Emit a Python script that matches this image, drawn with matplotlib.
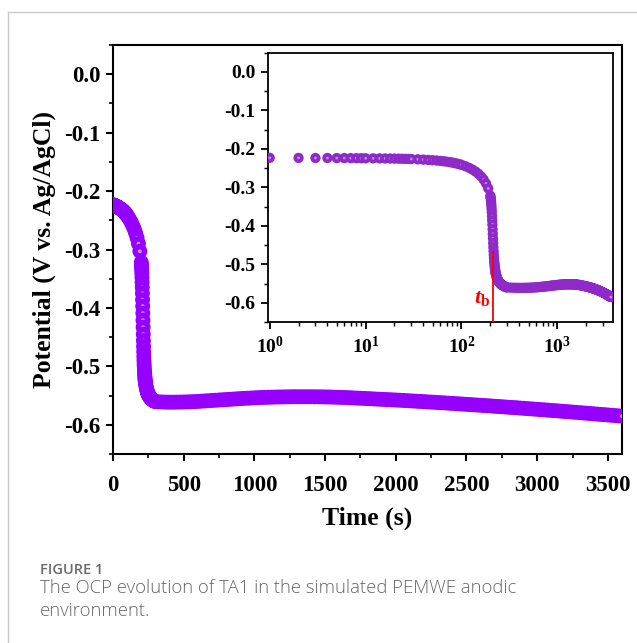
import numpy as np
import matplotlib
matplotlib.use("Agg")
import matplotlib.pyplot as plt
from matplotlib.lines import Line2D
from matplotlib.ticker import MultipleLocator, LogLocator, FuncFormatter, NullFormatter

# --- fonts ---
plt.rcParams['font.family'] = 'Liberation Serif'
plt.rcParams['font.weight'] = 'bold'
plt.rcParams['mathtext.fontset'] = 'custom'
plt.rcParams['mathtext.rm'] = 'Liberation Serif:bold'
plt.rcParams['mathtext.it'] = 'Liberation Serif:italic:bold'
plt.rcParams['mathtext.bf'] = 'Liberation Serif:bold'

# --- data: OCP (V vs. Ag/AgCl) ---
T_START = np.arange(1, 11, 1)
V_START = [-0.2235, -0.2238, -0.2240, -0.2240, -0.2242, -0.2243, -0.2244, -0.2245, -0.2246, -0.2247]

T_EARLY = np.arange(12, 31, 2)
V_EARLY = [-0.2249, -0.2250, -0.2252, -0.2254, -0.2256, -0.2258, -0.2260, -0.2262, -0.2264, -0.2266]

T_SLOW = np.arange(35, 101, 5)
V_SLOW = [-0.2275, -0.2282, -0.2290, -0.2298, -0.2306, -0.2315, -0.2325,
          -0.2335, -0.2346, -0.2358, -0.2372, -0.2386, -0.2401, -0.2418]

T_BEND = np.arange(110, 201, 10)
V_BEND = [-0.2455, -0.2495, -0.2540, -0.2592, -0.2650, -0.2720, -0.2800, -0.2900, -0.3030, -0.3220]

T_DROP = np.arange(201, 231, 1)
V_DROP = [-0.326, -0.330, -0.335, -0.341, -0.348, -0.356, -0.365, -0.375, -0.386, -0.397,
          -0.409, -0.421, -0.433, -0.445, -0.456, -0.466, -0.475, -0.483, -0.490, -0.496,
          -0.501, -0.506, -0.510, -0.514, -0.517, -0.520, -0.523, -0.525, -0.527, -0.529]

T_KNEE = np.arange(232, 261, 2)
V_KNEE = [-0.532, -0.535, -0.537, -0.539, -0.541, -0.543, -0.544, -0.546,
          -0.547, -0.548, -0.549, -0.550, -0.551, -0.552, -0.5525]

T_FLOOR = np.arange(265, 301, 5)
V_FLOOR = [-0.5540, -0.5555, -0.5567, -0.5577, -0.5585, -0.5592, -0.5598, -0.5603]

T_LATE = np.arange(325, 3601, 25)
V_LATE = [
    -0.5607, -0.5610, -0.5612, -0.5613, -0.5613, -0.5612, -0.5611, -0.5610, -0.5608, -0.5606, -0.5603, -0.5600,
    -0.5596, -0.5592, -0.5588, -0.5584, -0.5580, -0.5576, -0.5572, -0.5568, -0.5564, -0.5560, -0.5556, -0.5552,
    -0.5548, -0.5545, -0.5542, -0.5539, -0.5536, -0.5533, -0.5531, -0.5529, -0.5527, -0.5525, -0.5524, -0.5523,
    -0.5522, -0.5521, -0.5520, -0.5520, -0.5520, -0.5520, -0.5520, -0.5520, -0.5521, -0.5521, -0.5522, -0.5523,
    -0.5524, -0.5526, -0.5528, -0.5530, -0.5532, -0.5534, -0.5537, -0.5540, -0.5543, -0.5546, -0.5549, -0.5552,
    -0.5555, -0.5558, -0.5561, -0.5564, -0.5567, -0.5570, -0.5573, -0.5576, -0.5579, -0.5583, -0.5586, -0.5590,
    -0.5593, -0.5597, -0.5600, -0.5604, -0.5608, -0.5611, -0.5615, -0.5619, -0.5622, -0.5626, -0.5630, -0.5634,
    -0.5638, -0.5642, -0.5646, -0.5650, -0.5654, -0.5658, -0.5662, -0.5666, -0.5670, -0.5674, -0.5678, -0.5683,
    -0.5687, -0.5691, -0.5695, -0.5700, -0.5704, -0.5708, -0.5713, -0.5717, -0.5722, -0.5726, -0.5731, -0.5735,
    -0.5740, -0.5744, -0.5749, -0.5754, -0.5758, -0.5763, -0.5768, -0.5773, -0.5777, -0.5782, -0.5787, -0.5792,
    -0.5797, -0.5802, -0.5807, -0.5812, -0.5817, -0.5822, -0.5827, -0.5832, -0.5837, -0.5842, -0.5847, -0.5852,
]

T_B = 215  # breakdown time marked in the inset

time_s = np.concatenate([T_START, T_EARLY, T_SLOW, T_BEND, T_DROP, T_KNEE, T_FLOOR, T_LATE])
potential = np.concatenate([V_START, V_EARLY, V_SLOW, V_BEND, V_DROP, V_KNEE, V_FLOOR, V_LATE])


def draw_points(a, t, v, size, face, shine):
    """每个点画成球: 先画实心圆, 再在中心画高光, 交替排列保持遮挡顺序"""
    n = len(t)
    xs = np.repeat(t, 2)
    ys = np.repeat(v, 2)
    sizes = np.tile([size, size * 0.07], n)
    colors = [face, shine] * n
    a.scatter(xs, ys, s=sizes, c=colors, edgecolors='none', zorder=3)


def fmt_pot(v, p):
    # Origin 风格: 短横线负号
    return "0.0" if abs(v) < 1e-9 else f"{v:.1f}"


def style_axes(a, labelsize, width, xpad, ypad):
    for sp in a.spines.values():
        sp.set_linewidth(width)
    a.tick_params(which='major', direction='out', length=5, width=width,
                  labelsize=labelsize, top=False, right=False)
    a.tick_params(which='minor', direction='out', length=3, width=width * 0.8,
                  top=False, right=False)
    a.tick_params(axis='x', which='major', pad=xpad)
    a.tick_params(axis='y', which='major', pad=ypad)


fig = plt.figure(figsize=(6.37, 6.43), dpi=100)

# --- main panel ---
ax = fig.add_axes([113 / 637, 1 - 454 / 643, (622 - 113) / 637, (454 - 45) / 643])
draw_points(ax, time_s, potential, 115, '#9600FF', '#C98CFF')
ax.set_xlim(0, 3600)
ax.set_ylim(-0.65, 0.05)
ax.xaxis.set_major_locator(MultipleLocator(500))
ax.xaxis.set_minor_locator(MultipleLocator(250))
ax.yaxis.set_major_locator(MultipleLocator(0.1))
ax.yaxis.set_minor_locator(MultipleLocator(0.05))
ax.yaxis.set_major_formatter(FuncFormatter(fmt_pot))
style_axes(ax, 16.5, 1.5, 10, 4)
ax.set_xlabel('Time (s)', fontsize=18.5, fontweight='bold', labelpad=8)
ax.set_ylabel('Potential (V vs. Ag/AgCl)', fontsize=18.5, fontweight='bold', labelpad=6)

# --- inset (log time) ---
ax_in = fig.add_axes([268 / 637, 1 - 322 / 643, (613 - 268) / 637, (322 - 52.5) / 643])
draw_points(ax_in, time_s, potential, 55, '#8E2BC8', '#C58EE8')
ax_in.set_xscale('log')
ax_in.set_xlim(0.96, 3800)
ax_in.set_ylim(-0.65, 0.05)
ax_in.xaxis.set_major_locator(LogLocator(base=10))
ax_in.xaxis.set_minor_locator(LogLocator(base=10, subs=np.arange(2, 10)))
ax_in.xaxis.set_minor_formatter(NullFormatter())
ax_in.xaxis.set_major_formatter(FuncFormatter(lambda v, p: r'$\mathrm{10^{%d}}$' % int(round(np.log10(v)))))
ax_in.yaxis.set_major_locator(MultipleLocator(0.1))
ax_in.yaxis.set_minor_locator(MultipleLocator(0.05))
ax_in.yaxis.set_major_formatter(FuncFormatter(fmt_pot))
style_axes(ax_in, 14, 1.3, 5, 4)

ax_in.vlines(T_B, -0.65, -0.465, colors='red', lw=1.3, zorder=4)
ax_in.text(T_B * 0.93, -0.588, r'$t_{\mathrm{b}}$', color='red', fontsize=16,
           ha='right', va='center')

# --- journal card frame and caption ---
fig.add_artist(Line2D([8 / 637, 8 / 637], [0, 1 - 12 / 643], transform=fig.transFigure,
                      color='#c8c8c8', lw=1))
fig.add_artist(Line2D([8 / 637, 1], [1 - 12 / 643, 1 - 12 / 643], transform=fig.transFigure,
                      color='#c8c8c8', lw=1))
fig.text(40 / 637, 1 - 570 / 643, 'FIGURE 1', family='Open Sans', fontsize=10.5,
         fontweight='semibold', color='#6a6a6a', va='center')
fig.text(40 / 637, 1 - 588 / 643, 'The OCP evolution of TA1 in the simulated PEMWE anodic',
         family='Open Sans', fontsize=13.3, fontweight='light', color='#666666', va='center')
fig.text(40 / 637, 1 - 611 / 643, 'environment.',
         family='Open Sans', fontsize=13.3, fontweight='light', color='#666666', va='center')

fig.savefig('out.png', dpi=100)
